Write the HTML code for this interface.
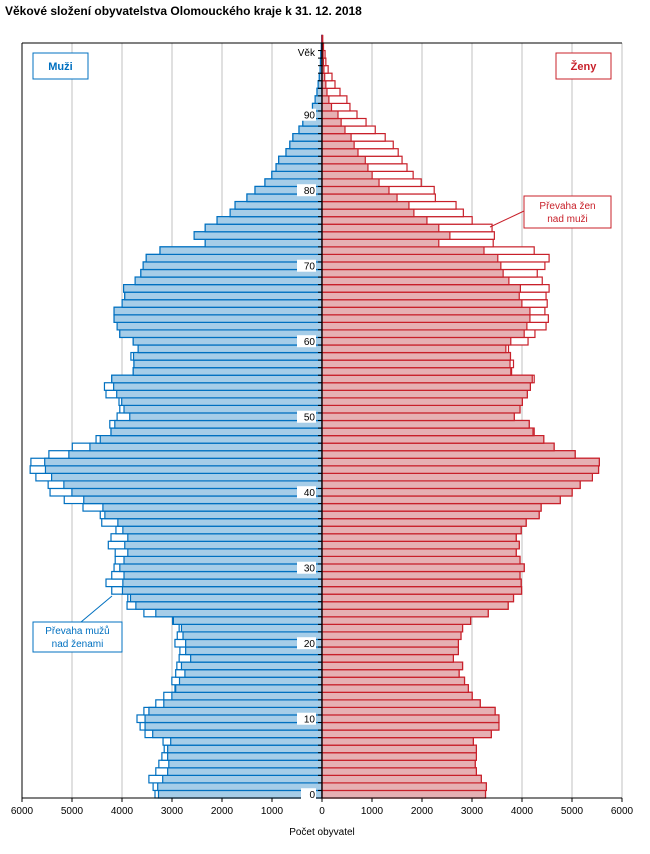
<!DOCTYPE html>
<html><head><meta charset="utf-8"><style>
body{margin:0;background:#fff;}
svg{display:block;font-family:"Liberation Sans",sans-serif;}
</style></head><body>
<svg id="s" width="650" height="854" xmlns="http://www.w3.org/2000/svg">
<text x="5" y="15" font-size="12" font-weight="bold" fill="#000">Věkové složení obyvatelstva Olomouckého kraje k 31. 12. 2018</text>
<g id="grid"></g>
<g id="bars"></g>
<g id="over"></g>
</svg>
<script>
var M=[3340,3378,3462,3324,3263,3202,3156,3179,3539,3638,3700,3562,3324,3164,2941,3003,2926,2903,2857,2842,2941,2895,2857,2987,3562,3899,3884,4205,4320,4205,4159,4136,4136,4274,4220,4121,4405,4435,4780,5155,5439,5477,5722,5837,5822,5462,4994,4519,4220,4244,4098,4044,4060,4320,4351,4205,3776,3761,3822,3677,3776,4044,4098,4159,4159,3998,3945,3968,3738,3623,3577,3516,3240,2336,2558,2336,2099,1838,1739,1501,1340,1141,1003,919,866,720,643,582,460,383,320,190,138,100,77,54,38,30,23,12,6];
var F=[3270,3286,3186,3087,3064,3087,3087,3026,3386,3539,3539,3462,3164,3003,2926,2850,2742,2811,2627,2727,2727,2780,2811,2972,3324,3723,3830,3991,3983,3960,4044,3960,3884,3945,3884,3983,4083,4343,4382,4765,5002,5163,5408,5531,5546,5063,4642,4435,4244,4144,3845,3960,4006,4106,4167,4244,3792,3830,3769,3730,4121,4259,4481,4527,4458,4504,4481,4542,4405,4305,4458,4542,4244,3424,3447,3401,3003,2827,2681,2267,2244,1984,1823,1700,1601,1524,1425,1264,1065,881,700,559,498,360,260,200,123,77,61,30,15];
var NS="http://www.w3.org/2000/svg";
function el(p,t,a,txt){var e=document.createElementNS(NS,t);for(var k in a)e.setAttribute(k,a[k]);if(txt!=null)e.textContent=txt;p.appendChild(e);return e;}
var g=document.getElementById('grid'),b=document.getElementById('bars'),o=document.getElementById('over');
var CX=322,K=0.05,TOP=43,BOT=798,S=7.55;
for(var i=0;i<=12;i++){var x=22+i*50;if(i!=6&&i!=0)el(g,'line',{x1:x,y1:TOP,x2:x,y2:BOT,stroke:'#c0c0c0','stroke-width':1});}
var BL='#0070c0',BF='#a6cde8',RL='#c8202a',RF='#e6b0b3';
for(var a=0;a<M.length;a++){
 var y=BOT-S*(a+1), h=S, m=M[a], f=F[a], mn=Math.min(m,f);
 el(b,'rect',{x:CX-m*K,y:y,width:m*K,height:h,fill:'#fff',stroke:BL,'stroke-width':1.2});
 el(b,'rect',{x:CX-mn*K,y:y,width:mn*K,height:h,fill:BF,stroke:BL,'stroke-width':1.2});
 el(b,'rect',{x:CX,y:y,width:f*K,height:h,fill:'#fff',stroke:RL,'stroke-width':1.2});
 el(b,'rect',{x:CX,y:y,width:mn*K,height:h,fill:RF,stroke:RL,'stroke-width':1.2});
}
el(o,'line',{x1:22,y1:TOP,x2:622,y2:TOP,stroke:'#000','stroke-width':1});
el(o,'line',{x1:22,y1:TOP,x2:22,y2:BOT,stroke:'#000','stroke-width':1});
el(o,'line',{x1:22,y1:BOT,x2:622,y2:BOT,stroke:'#000','stroke-width':1});
el(o,'line',{x1:CX,y1:TOP,x2:CX,y2:BOT,stroke:'#000','stroke-width':1.3});
for(var a=0;a<=100;a++){var yt=BOT-S*a;el(o,'line',{x1:CX-4,y1:yt,x2:CX,y2:yt,stroke:'#000','stroke-width':1});}
for(var i=0;i<=12;i++){var x=22+i*50;el(o,'line',{x1:x,y1:BOT,x2:x,y2:BOT+4,stroke:'#000','stroke-width':1});
 var v=Math.abs(i-6)*1000;el(o,'text',{x:x,y:814,'font-size':10,'text-anchor':'middle',fill:'#000'},String(v));}
el(o,'text',{x:CX,y:835,'font-size':10,'text-anchor':'middle',fill:'#000'},'Počet obyvatel');
for(var a=0;a<=90;a+=10){var yc=BOT-S*(a+0.5);
 el(o,'rect',{x:a==0?301:297,y:yc-6,width:a==0?15:19,height:12,fill:'#fff'});
 el(o,'text',{x:315,y:yc+4,'font-size':10,'text-anchor':'end',fill:'#000'},String(a));}
el(o,'rect',{x:294,y:46,width:22,height:13,fill:'#fff'});
el(o,'text',{x:315,y:56,'font-size':10,'text-anchor':'end',fill:'#000'},'Věk');
el(o,'rect',{x:33,y:53,width:55,height:26,fill:'#fff',stroke:BL,'stroke-width':1});
el(o,'text',{x:60.5,y:70,'font-size':11,'font-weight':'bold','text-anchor':'middle',fill:BL},'Muži');
el(o,'rect',{x:556,y:53,width:55,height:26,fill:'#fff',stroke:RL,'stroke-width':1});
el(o,'text',{x:583.5,y:70,'font-size':11,'font-weight':'bold','text-anchor':'middle',fill:RL},'Ženy');
el(o,'line',{x1:490,y1:227,x2:524,y2:211,stroke:RL,'stroke-width':1});
el(o,'rect',{x:524,y:196,width:87,height:32,fill:'#fff',stroke:RL,'stroke-width':1});
el(o,'text',{x:567.5,y:209,'font-size':10,'text-anchor':'middle',fill:RL},'Převaha žen');
el(o,'text',{x:567.5,y:222,'font-size':10,'text-anchor':'middle',fill:RL},'nad muži');
el(o,'line',{x1:112,y1:596,x2:81,y2:622,stroke:BL,'stroke-width':1});
el(o,'rect',{x:33,y:622,width:89,height:30,fill:'#fff',stroke:BL,'stroke-width':1});
el(o,'text',{x:77.5,y:634,'font-size':10,'text-anchor':'middle',fill:BL},'Převaha mužů');
el(o,'text',{x:77.5,y:647,'font-size':10,'text-anchor':'middle',fill:BL},'nad ženami');
</script>
</body></html>
